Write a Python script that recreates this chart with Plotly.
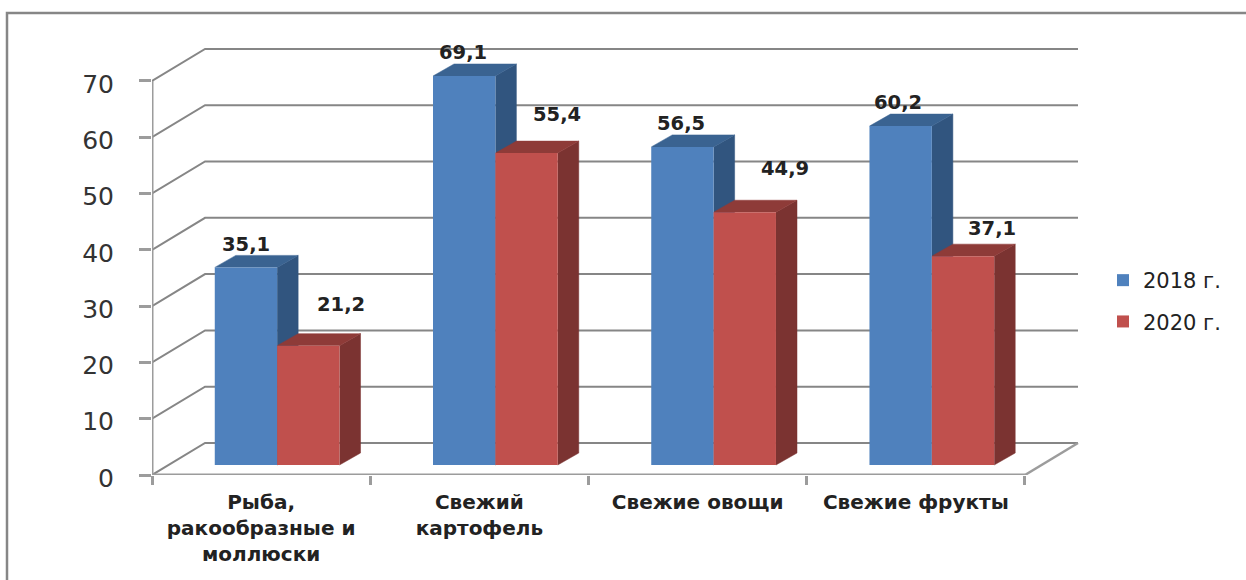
import plotly.graph_objects as go

# Chart data
categories = ["Рыба,<br>ракообразные и<br>моллюски", "Свежий<br>картофель", "Свежие овощи", "Свежие фрукты"]
series_names = ["2018 г.", "2020 г."]
values_2018 = [35.1, 69.1, 56.5, 60.2]
values_2020 = [21.2, 55.4, 44.9, 37.1]
y_ticks = [0, 10, 20, 30, 40, 50, 60, 70]

# Colours for the three visible faces of each column
BLUE = dict(front="#4f81bd", side="#31557f", top="#3a6391")
RED = dict(front="#c0504d", side="#7b3331", top="#8e3b38")
GRID = "#868686"
AXIS = "#9c9c9c"
FONT = "DejaVu Sans"
INK = "#222222"

W, H = 1246, 580
PX_X0, PX_X1 = 152, 1078      # horizontal extent of the floor, px
PX_Y0, PX_YTOP = 475, 30      # baseline and top of the plot area, px
PX_PER_CAT = 218.0
PX_PER_UNIT = 5.63

# Perspective offsets of the box, in axis units
WALL_DX = 53 / PX_PER_CAT
WALL_DY = 32 / PX_PER_UNIT
BAR_DX = 21 / PX_PER_CAT
BAR_DY = 12 / PX_PER_UNIT
BAR_SHIFT = 16 / PX_PER_CAT
BAR_BASE = 10 / PX_PER_UNIT
BAR_W = 62.3 / PX_PER_CAT

x_lo, x_hi = -0.5, 3.5
x_range = [x_lo, x_lo + (PX_X1 - PX_X0) / PX_PER_CAT]
y_range = [0, (PX_Y0 - PX_YTOP) / PX_PER_UNIT]


def outline(xs, ys, color, width):
    return go.Scatter(x=xs, y=ys, mode="lines", line=dict(color=color, width=width),
                      showlegend=False, hoverinfo="skip", xaxis="x", yaxis="y")


def faces(polys, color):
    xs, ys = [], []
    for poly in polys:
        xs += [p[0] for p in poly] + [None]
        ys += [p[1] for p in poly] + [None]
    return go.Scatter(x=xs, y=ys, mode="lines", fill="toself", fillcolor=color,
                      line=dict(color=color, width=0.5), showlegend=False,
                      hoverinfo="skip", xaxis="x", yaxis="y")


def column_faces(values, slot, palette):
    sides, tops = [], []
    for i, v in enumerate(values):
        x0 = i + BAR_SHIFT + slot * BAR_W
        x1 = x0 + BAR_W
        y0, y1 = BAR_BASE, BAR_BASE + v
        sides.append([(x1, y0), (x1 + BAR_DX, y0 + BAR_DY), (x1 + BAR_DX, y1 + BAR_DY), (x1, y1)])
        tops.append([(x0, y1), (x0 + BAR_DX, y1 + BAR_DY), (x1 + BAR_DX, y1 + BAR_DY), (x1, y1)])
    return [faces(sides, palette["side"]), faces(tops, palette["top"])]


fig = go.Figure()

# Back wall gridlines, running up the left wall and along the back
for t in y_ticks:
    fig.add_trace(outline([x_lo, x_lo + WALL_DX, x_hi + WALL_DX],
                          [t, t + WALL_DY, t + WALL_DY], GRID, 2))

# Floor edge on the right, then the front axis lines
fig.add_trace(outline([x_hi, x_hi + WALL_DX], [0, WALL_DY], AXIS, 2.5))
fig.add_trace(outline([x_lo, x_lo], [0, y_ticks[-1]], AXIS, 3))
fig.add_trace(outline([x_lo, x_hi], [0, 0], AXIS, 3))

# Side and top faces sit in the lower subplot so the front faces cover them
for trace in column_faces(values_2018, -1, BLUE):
    fig.add_trace(trace)
for trace in column_faces(values_2020, 0, RED):
    fig.add_trace(trace)

# Front faces
for name, values, slot, palette in [(series_names[0], values_2018, -1, BLUE),
                                    (series_names[1], values_2020, 0, RED)]:
    fig.add_trace(go.Bar(
        x=[i + BAR_SHIFT + (slot + 0.5) * BAR_W for i in range(len(values))],
        y=values, base=BAR_BASE, width=BAR_W, name=name,
        marker=dict(color=palette["front"], line=dict(width=0)),
        legendgroup=name, xaxis="x2", yaxis="y2",
    ))

# Value labels, nudged off the column tops
label_shift_2018 = [(0, 23), (-1, 23), (-1, 23), (-3, 24)]
label_shift_2020 = [(33, 41), (30, 39), (40, 44), (29, 28)]
for values, slot, shifts in [(values_2018, -1, label_shift_2018), (values_2020, 0, label_shift_2020)]:
    for i, v in enumerate(values):
        fig.add_annotation(
            x=i + BAR_SHIFT + (slot + 0.5) * BAR_W, y=BAR_BASE + v, xref="x2", yref="y2",
            text=f"<b>{v:.1f}</b>".replace(".", ","), showarrow=False,
            xshift=shifts[i][0], yshift=shifts[i][1], yanchor="middle", xanchor="center",
            font=dict(family=FONT, size=19.5, color=INK),
        )

# Outer frame of the chart area: only the top and left edges fall inside the page
fig.add_shape(type="path", path=f"M {7/W} 0 L {7/W} {1 - 13/H} L 1 {1 - 13/H}",
              xref="paper", yref="paper", line=dict(color="#868686", width=2.5), layer="below")

x_domain = [PX_X0 / W, (PX_X1 + 1) / W]
y_domain = [(H - PX_Y0) / H, (H - PX_YTOP) / H]

fig.update_layout(
    width=W, height=H, margin=dict(l=0, r=0, t=0, b=0),
    paper_bgcolor="white", plot_bgcolor="rgba(0,0,0,0)",
    barmode="overlay", showlegend=True,
    legend=dict(x=1103 / W, y=1 - 260 / H, xanchor="left", yanchor="top",
                traceorder="grouped", tracegroupgap=11, bgcolor="rgba(0,0,0,0)",
                font=dict(family=FONT, size=21, color=INK)),
    xaxis=dict(domain=x_domain, range=x_range, showgrid=False, zeroline=False, showline=False,
               tickmode="array", tickvals=list(range(len(categories))), ticktext=categories,
               ticks="", ticklabelstandoff=13, automargin=False,
               tickfont=dict(family=FONT, size=20, color=INK, weight="bold"),
               minor=dict(tickmode="array", tickvals=[x_lo + i for i in range(5)],
                          ticks="outside", ticklen=9, tickwidth=3, tickcolor=AXIS, showgrid=False)),
    yaxis=dict(domain=y_domain, range=y_range, showgrid=False, zeroline=False, showline=False,
               tickmode="array", tickvals=y_ticks, ticks="outside", ticklen=12, tickwidth=2.5,
               tickcolor=AXIS, ticklabelstandoff=20, ticklabelshift=3, automargin=False,
               tickfont=dict(family=FONT, size=25, color="#333333")),
    xaxis2=dict(domain=x_domain, overlaying="x", matches="x", visible=False),
    yaxis2=dict(domain=y_domain, overlaying="y", matches="y", visible=False),
)

fig.write_html("out.html")
